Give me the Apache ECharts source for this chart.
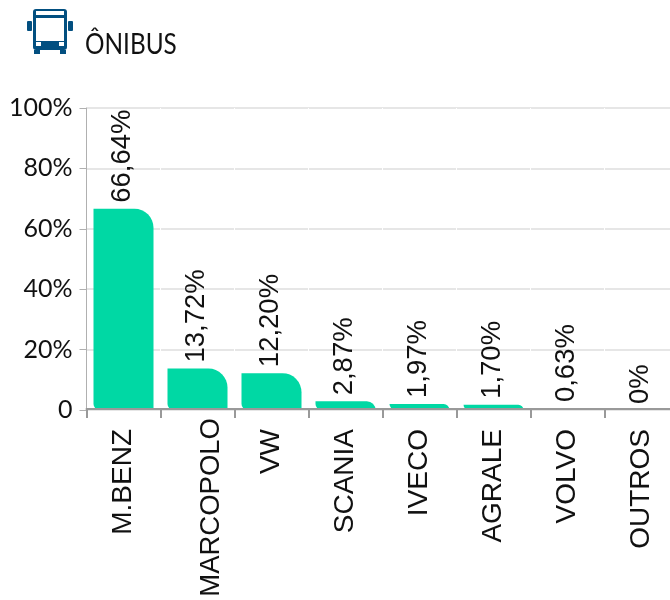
<!DOCTYPE html>
<html>
<head>
    <meta charset="UTF-8">
    <title>ÔNIBUS</title>
    <style>
        html, body { margin: 0; padding: 0; background: #fff; overflow: hidden; }
        /* wider than the window: the last category runs off the right edge */
        #chart { width: 700px; height: 600px; }
    </style>
    <script src="https://cdn.jsdelivr.net/npm/echarts@6/dist/echarts.min.js"></script>
</head>
<body>
    <div id="chart"></div>
    <script>
    var categories = ['M.BENZ', 'MARCOPOLO', 'VW', 'SCANIA', 'IVECO', 'AGRALE', 'VOLVO', 'OUTROS'];
    var shares = [66.64, 13.72, 12.20, 2.87, 1.97, 1.70, 0.63, 0];
    var shareLabels = ['66,64%', '13,72%', '12,20%', '2,87%', '1,97%', '1,70%', '0,63%', '0%'];
    var yTicks = [0, 20, 40, 60, 80, 100];

    var chart = echarts.init(document.getElementById('chart'));
    var busColor = '#024f80';

    chart.setOption({
        animation: false,
        grid: { left: 86.5, top: 108, width: 592, height: 302 },
        xAxis: {
            type: 'category',
            data: categories,
            offset: -1,
            z: 3,
            axisLine: { lineStyle: { color: '#999999', width: 2 } },
            axisTick: { show: true, length: 9, interval: 0, lineStyle: { color: '#999999', width: 2 } },
            // white lines make the small gaps in the gridlines
            splitLine: { show: true, interval: 0, showMinLine: false, lineStyle: { color: '#ffffff', width: 1 } },
            axisLabel: {
                rotate: 90, interval: 0, margin: 9,
                fontFamily: 'Liberation Sans', fontSize: 28, color: '#111',
                formatter: function (v) {
                    // MARCOPOLO sits higher and further right than the others
                    return v === 'MARCOPOLO' ? '{long|' + v + '}' : '{std|' + v + '}';
                },
                rich: {
                    std: { fontFamily: 'Liberation Sans', fontSize: 28, color: '#111', padding: [0, 11, 0, 0] },
                    long: { fontFamily: 'Liberation Sans', fontSize: 27.5, color: '#111', padding: [28, 0, 0, 0] }
                }
            }
        },
        yAxis: {
            type: 'value', min: 0, max: 100, interval: 20,
            z: 1,
            axisLine: { show: true, lineStyle: { color: '#b0b0b0', width: 1 } },
            axisTick: { show: true, length: 7, lineStyle: { color: '#b0b0b0' } },
            splitLine: { lineStyle: { color: '#e6e6e6', width: 2 } },
            axisLabel: {
                margin: 14, fontFamily: 'Lato', fontSize: 25, color: '#111',
                formatter: function (v) { return v === 0 ? '0' : yTicks[v / 20] + '%'; }
            }
        },
        series: [{
            type: 'bar',
            data: shares,
            barWidth: 60,
            itemStyle: { color: '#00d8a4', borderRadius: [0, 19, 0, 6] },
            label: {
                show: true, position: 'top', rotate: 90, distance: 7,
                align: 'left', verticalAlign: 'middle', offset: [-1, -1],
                fontFamily: 'Liberation Sans', fontSize: 27.5, color: '#111',
                formatter: function (p) { return shareLabels[p.dataIndex]; }
            }
        }],
        graphic: [
            { type: 'text', x: 85, y: 30, scaleX: 0.84, style: { text: 'ÔNIBUS', fontFamily: 'Lato', fontSize: 29, fill: '#111' } },
            { type: 'rect', shape: { x: 33, y: 9, width: 34, height: 41, r: 3 }, style: { fill: busColor } },
            { type: 'rect', shape: { x: 36, y: 11, width: 28, height: 4 }, style: { fill: '#fff' } },
            { type: 'rect', shape: { x: 36, y: 18, width: 28, height: 23 }, style: { fill: '#fff' } },
            { type: 'rect', shape: { x: 36, y: 42, width: 5, height: 4 }, style: { fill: '#fff' } },
            { type: 'rect', shape: { x: 59, y: 42, width: 5, height: 4 }, style: { fill: '#fff' } },
            { type: 'rect', shape: { x: 27, y: 21, width: 5, height: 10, r: 1 }, style: { fill: busColor } },
            { type: 'rect', shape: { x: 68, y: 21, width: 5, height: 10, r: 1 }, style: { fill: busColor } },
            { type: 'rect', shape: { x: 34, y: 50, width: 6, height: 4 }, style: { fill: busColor } },
            { type: 'rect', shape: { x: 60, y: 50, width: 6, height: 4 }, style: { fill: busColor } }
        ]
    });
    </script>
</body>
</html>
